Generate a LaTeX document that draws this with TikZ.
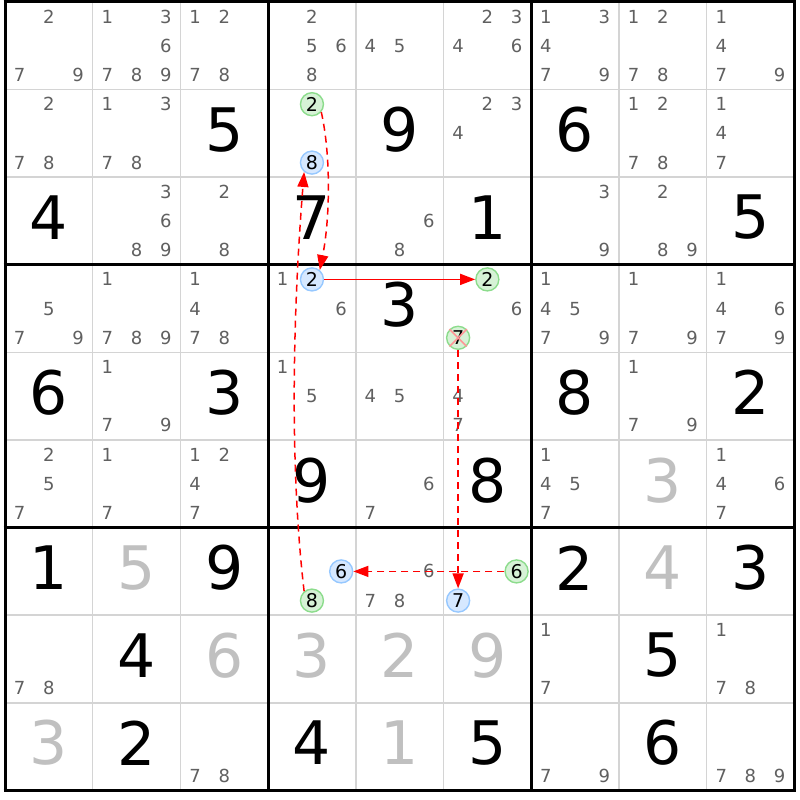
\documentclass[tikz,border=0pt]{standalone}
\usepackage{fontspec}
\setmainfont{DejaVu Sans}
\usetikzlibrary{arrows.meta}
\definecolor{cand}{RGB}{96,96,96}
\definecolor{solved}{RGB}{192,192,192}
\definecolor{gridgray}{RGB}{212,212,212}
\definecolor{gfill}{RGB}{214,242,214}
\definecolor{gdraw}{RGB}{140,220,140}
\definecolor{bfill}{RGB}{214,232,255}
\definecolor{bdraw}{RGB}{150,200,255}
\definecolor{xred}{RGB}{255,150,150}
\definecolor{linkred}{RGB}{255,0,0}
\newcommand\candnode[5]{%
  \pgfmathsetmacro\candx{5+87.7*(#2+(2*mod(#3-1,3)+1)/6)}%
  \pgfmathsetmacro\candy{2+87.6*(#1+(2*floor((#3-1)/3)+1)/6)}%
  \node[#4] (#5) at (\candx,\candy) {#3};}
\newcommand\bignode[4]{%
  \pgfmathsetmacro\candx{5+87.7*(#2+0.5)}%
  \pgfmathsetmacro\candy{2+87.6*(#1+0.5)-3.5}%
  \node[#4] (b#1#2) at (\candx,\candy) {#3};}
\begin{document}
\begin{tikzpicture}[x=1pt,y=-1pt,
  candst/.style={font=\fontsize{18}{18}\selectfont, text=cand, inner sep=0pt},
  givenst/.style={font=\fontsize{60}{60}\selectfont, text=black, inner sep=0pt},
  solvedst/.style={givenst, text=solved},
  markst/.style={circle, minimum size=23pt, inner sep=0pt, line width=1.4pt, font=\fontsize{19}{19}\selectfont, text=black},
  greenmark/.style={markst, fill=gfill, draw=gdraw},
  bluemark/.style={markst, fill=bfill, draw=bdraw},
  link/.style={draw=linkred, line width=1.5pt, -{Triangle[length=15pt,width=11pt,fill=linkred]}},
  weak/.style={link, dash pattern=on 7pt off 5pt},
  gridthin/.style={draw=gridgray, line width=1.5pt},
  gridthick/.style={draw=black, line width=3pt},
]
\useasboundingbox (0,0) rectangle (800,800);
\fill[white] (0,0) rectangle (800,800);
% grid
\foreach \i in {1,2,4,5,7,8}{
  \draw[gridthin] ({5+87.7*\i},2) -- ({5+87.7*\i},790.4);
  \draw[gridthin] (5,{2+87.6*\i}) -- (794.3,{2+87.6*\i});
}
\foreach \i in {0,3,6,9}{
  \draw[gridthick] ({5+87.7*\i},0.5) -- ({5+87.7*\i},791.9);
  \draw[gridthick] (3.5,{2+87.6*\i}) -- (795.8,{2+87.6*\i});
}
% candidates
\foreach \r/\c/\L in {0/0/{2,7,9},0/1/{1,3,6,7,8,9},0/2/{1,2,7,8},0/3/{2,5,6,8},0/4/{4,5},0/5/{2,3,4,6},0/6/{1,3,4,7,9},0/7/{1,2,7,8},0/8/{1,4,7,9},
  1/0/{2,7,8},1/1/{1,3,7,8},1/5/{2,3,4},1/7/{1,2,7,8},1/8/{1,4,7},
  2/1/{3,6,8,9},2/2/{2,8},2/4/{6,8},2/6/{3,9},2/7/{2,8,9},
  3/0/{5,7,9},3/1/{1,7,8,9},3/2/{1,4,7,8},3/3/{1,6},3/5/{6},3/6/{1,4,5,7,9},3/7/{1,7,9},3/8/{1,4,6,7,9},
  4/1/{1,7,9},4/3/{1,5},4/4/{4,5},4/5/{4,7},4/7/{1,7,9},
  5/0/{2,5,7},5/1/{1,7},5/2/{1,2,4,7},5/4/{6,7},5/6/{1,4,5,7},5/8/{1,4,6,7},
  6/4/{6,7,8},
  7/0/{7,8},7/6/{1,7},7/8/{1,7,8},
  8/2/{7,8},8/6/{7,9},8/8/{7,8,9}}{
  \foreach \d in \L {\candnode{\r}{\c}{\d}{candst}{c\r\c\d}}
}
% given digits
\foreach \r/\c/\d in {1/2/5,1/4/9,1/6/6,2/0/4,2/3/7,2/5/1,2/8/5,3/4/3,4/0/6,4/2/3,4/6/8,4/8/2,5/3/9,5/5/8,6/0/1,6/2/9,6/6/2,6/8/3,7/1/4,7/7/5,8/1/2,8/3/4,8/5/5,8/7/6}{
  \bignode{\r}{\c}{\d}{givenst}
}
\foreach \r/\c/\d in {5/7/3,6/1/5,6/7/4,7/2/6,7/3/3,7/4/2,7/5/9,8/0/3,8/4/1}{
  \bignode{\r}{\c}{\d}{solvedst}
}
% marked candidates
\candnode{1}{3}{2}{greenmark}{ga}
\candnode{1}{3}{8}{bluemark}{ba}
\candnode{3}{3}{2}{bluemark}{bb}
\candnode{3}{5}{2}{greenmark}{gb}
\candnode{3}{5}{7}{greenmark}{gx}
\candnode{6}{3}{6}{bluemark}{bc}
\candnode{6}{3}{8}{greenmark}{gc}
\candnode{6}{5}{6}{greenmark}{gd}
\candnode{6}{5}{7}{bluemark}{bd}
\draw[xred, line width=1.6pt] (gx.45) -- (gx.225) (gx.135) -- (gx.-45);
% links
\draw[weak] (ga.-40) .. controls +(10,45) and +(10,-50) .. (bb.50);
\draw[link] (bb.east) -- (gb.west);
\draw[weak] (gx.south) -- (bd.north);
\draw[weak] (gd.west) -- (bc.east);
\draw[weak] (gc.130) .. controls +(-14,-120) and +(-12,150) .. (ba.230);
\end{tikzpicture}
\end{document}
